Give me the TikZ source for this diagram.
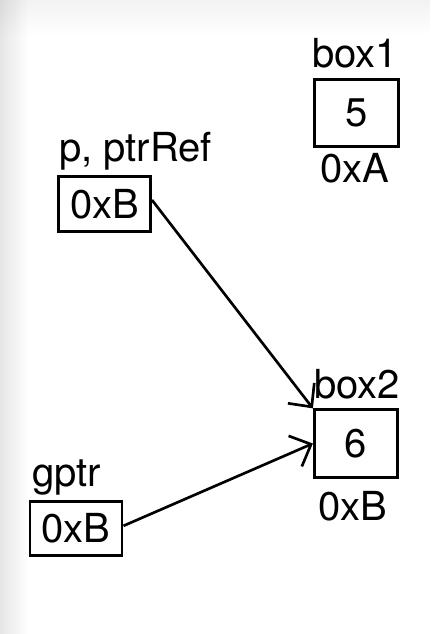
\documentclass[tikz,border=0pt]{standalone}
\usepackage{fontspec}
\setmainfont{TeX Gyre Heros}
\usetikzlibrary{arrows.meta}
\begin{document}
\begin{tikzpicture}[x=0.75pt,y=-0.75pt,
  font=\fontsize{30}{35}\selectfont,
  cell/.style={draw=black,line width=2.2pt,inner sep=0pt,minimum width=62.5pt,minimum height=50.5pt},
  pcell/.style={draw=black,line width=2.2pt,inner sep=0pt,minimum width=69pt,minimum height=41pt},
  lbl/.style={inner sep=0pt},
  ptr/.style={line width=2pt,-{Straight Barb[length=13pt,width=25pt,line width=2pt]}}]
\useasboundingbox (0,0) rectangle (430,634);
\fill[white] (0,0) rectangle (430,634);
\foreach \j in {0,...,35} {
  \fill[black,opacity={0.05*(1-\j/36)}] (0,\j) rectangle (430,\j+1.05);
}
\foreach \i in {0,...,27} {
  \fill[black,opacity={0.10*(1-\i/28)}] (\i,0) rectangle (\i+1.05,634);
}
% memory boxes
\node[cell] (box1) at (356.5,113) {5};
\node[lbl,anchor=base] (box1name) at (355,68) {box1};
\node[lbl,anchor=base] (box1addr) at (355,183) {0xA};
\node[cell] (box2) at (356,443.5) {6};
\node[lbl,anchor=base] (box2name) at (357,398) {box2};
\node[lbl,anchor=base] (box2addr) at (353,520) {0xB};
% pointers
\node[pcell] (pbox) at (104.5,204) {0xB};
\node[lbl,anchor=base west] (pname) at (59,162) {p, ptrRef};
\node[pcell] (gbox) at (76,528.5) {0xB};
\node[lbl,anchor=base west] (gname) at (32,486) {gptr};
% connectors
\draw[ptr] ([yshift=3pt]pbox.east) -- (box2.north west);
\draw[ptr] ([yshift=2pt]gbox.east) -- (box2.west);
\end{tikzpicture}
\end{document}
